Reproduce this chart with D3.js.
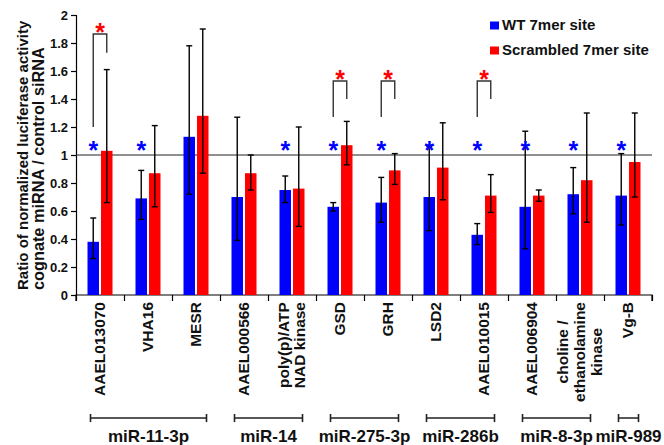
<!DOCTYPE html>
<html><head><meta charset="utf-8">
<script src="https://cdn.jsdelivr.net/npm/d3@7"></script>
<style>
html,body{margin:0;padding:0;background:#fff;}
svg{display:block;font-family:"Liberation Sans",Arial,sans-serif;font-weight:bold;}
</style></head>
<body>
<svg id="chart" width="664" height="445"></svg>
<script>
// ---------- data ----------
const categories = ["AAEL013070","VHA16","MESR","AAEL000566","poly(p)/ATP NAD kinase","GSD","GRH","LSD2","AAEL010015","AAEL006904","choline / ethanolamine kinase","Vg-B"];
const categoryLines = [["AAEL013070"],["VHA16"],["MESR"],["AAEL000566"],["poly(p)/ATP","NAD kinase"],["GSD"],["GRH"],["LSD2"],["AAEL010015"],["AAEL006904"],["choline /","ethanolamine","kinase"],["Vg-B"]];
const seriesNames = ["WT 7mer site","Scrambled 7mer site"];
const wtValues   = [0.38, 0.69, 1.13, 0.70, 0.75, 0.63, 0.66, 0.70, 0.43, 0.63, 0.72, 0.71];
const wtLow      = [0.26, 0.54, 0.72, 0.39, 0.66, 0.60, 0.52, 0.46, 0.36, 0.33, 0.58, 0.50];
const wtHigh     = [0.55, 0.89, 1.78, 1.27, 0.85, 0.66, 0.84, 1.06, 0.51, 1.17, 0.91, 1.01];
const scrValues  = [1.03, 0.87, 1.28, 0.87, 0.76, 1.07, 0.89, 0.91, 0.71, 0.71, 0.82, 0.95];
const scrLow     = [0.66, 0.63, 0.87, 0.75, 0.49, 0.93, 0.79, 0.68, 0.59, 0.67, 0.52, 0.70];
const scrHigh    = [1.61, 1.21, 1.90, 1.00, 1.20, 1.24, 1.01, 1.23, 0.86, 0.75, 1.30, 1.30];
const yTicks = [0, 0.2, 0.4, 0.6, 0.8, 1, 1.2, 1.4, 1.6, 1.8, 2];
const yTickLabels = ["0","0.2","0.4","0.6","0.8","1","1.2","1.4","1.6","1.8","2"];
const blueStarCats = ["AAEL013070","VHA16","poly(p)/ATP NAD kinase","GSD","GRH","LSD2","AAEL010015","AAEL006904","choline / ethanolamine kinase","Vg-B"];
const blueStarLevel = 1.07;
const sigCats = ["AAEL013070","GSD","GRH","AAEL010015"];
const sigTop = [1.864, 1.529, 1.529, 1.529];
const sigLeftBottom = [1.20, 1.271, 1.271, 1.271];
const sigRightBottom = [1.73, 1.40, 1.40, 1.40];
const sigStarLevel = [1.916, 1.579, 1.579, 1.579];
const groups = ["miR-11-3p","miR-14","miR-275-3p","miR-286b","miR-8-3p","miR-989"];
const groupFirst = ["AAEL013070","AAEL000566","GSD","LSD2","AAEL006904","Vg-B"];
const groupLast  = ["MESR","poly(p)/ATP NAD kinase","GRH","AAEL010015","choline / ethanolamine kinase","Vg-B"];
const yTitleLines = ["Ratio of normalized luciferase activity","cognate miRNA / control siRNA"];

const BLUE = "#0000ff", RED = "#ff0000";

// ---------- scales ----------
const svg = d3.select("#chart");
const x = d3.scaleBand().domain(categories).range([76, 652]);
const xi = d3.scaleBand().domain(["wt","scr"]).range([11.5, 36.5]).paddingInner(0.15);
const y = d3.scaleLinear().domain([0, 2]).range([295, 15]);
const cx = c => x(c) + x.bandwidth() / 2;

// y axis
const yAxis = d3.axisLeft(y).tickValues(yTicks).tickSize(5).tickPadding(3)
  .tickFormat((d, i) => yTickLabels[i]);
const gy = svg.append("g").attr("transform", `translate(${x.range()[0]},0)`).call(yAxis);
gy.select(".domain").attr("stroke", "#000").attr("stroke-width", 1.2);
gy.selectAll(".tick line").attr("stroke", "#000").attr("stroke-width", 1.2);
gy.selectAll(".tick text").attr("font-size", 13).attr("font-weight", "bold")
  .attr("font-family", "Liberation Sans, Arial, sans-serif").attr("fill", "#111");

// x axis (category boundaries)
const xb = d3.scaleLinear().domain([0, categories.length]).range(x.range());
const xAxis = d3.axisBottom(xb).tickValues(d3.range(categories.length + 1)).tickSize(6).tickFormat("");
const gx = svg.append("g").attr("transform", `translate(0,${y(0)})`).call(xAxis);
gx.select(".domain").attr("stroke", "#000").attr("stroke-width", 1.2).attr("d", `M${x.range()[0]},6V0H${x.range()[1]}V6`);
gx.selectAll(".tick line").attr("stroke", "#000").attr("stroke-width", 1.2);

// reference line at 1
svg.append("line").attr("x1", x.range()[0]).attr("x2", x.range()[1])
  .attr("y1", y(1)).attr("y2", y(1)).attr("stroke", "#222").attr("stroke-width", 1.2);

// bars
const series = [
  {key: "wt", vals: wtValues, lo: wtLow, hi: wtHigh, color: BLUE},
  {key: "scr", vals: scrValues, lo: scrLow, hi: scrHigh, color: RED}
];
series.forEach(s => {
  const g = svg.append("g");
  g.selectAll("rect").data(categories).join("rect")
    .attr("x", c => x(c) + xi(s.key))
    .attr("width", xi.bandwidth())
    .attr("y", (c, i) => y(s.vals[i]))
    .attr("height", (c, i) => y(0) - y(s.vals[i]))
    .attr("fill", s.color);
});
// error bars
series.forEach(s => {
  const g = svg.append("g").attr("stroke", "#000").attr("stroke-width", 1.4);
  categories.forEach((c, i) => {
    const bx = x(c) + xi(s.key) + xi.bandwidth() / 2;
    g.append("line").attr("x1", bx).attr("x2", bx).attr("y1", y(s.lo[i])).attr("y2", y(s.hi[i]));
    g.append("line").attr("x1", bx - 3).attr("x2", bx + 3).attr("y1", y(s.lo[i])).attr("y2", y(s.lo[i]));
    g.append("line").attr("x1", bx - 3).attr("x2", bx + 3).attr("y1", y(s.hi[i])).attr("y2", y(s.hi[i]));
  });
});

// blue stars
const STAR = 25;
svg.append("g").selectAll("text").data(blueStarCats).join("text")
  .attr("x", c => x(c) + xi("wt") + xi.bandwidth() / 2)
  .attr("y", y(blueStarLevel) + STAR * 0.55)
  .attr("text-anchor", "middle").attr("font-size", STAR).attr("font-weight", "bold")
  .attr("fill", BLUE).text("*");

// significance brackets
sigCats.forEach((c, i) => {
  const xl = x(c) + xi("wt") + xi.bandwidth() / 2;
  const xr = x(c) + xi("scr") + xi.bandwidth() / 2;
  svg.append("path")
    .attr("d", `M${xl},${y(sigLeftBottom[i])}V${y(sigTop[i])}H${xr}V${y(sigRightBottom[i])}`)
    .attr("fill", "none").attr("stroke", "#333").attr("stroke-width", 1.4);
  svg.append("text").attr("x", (xl + xr) / 2).attr("y", y(sigStarLevel[i]) + STAR * 0.55)
    .attr("text-anchor", "middle").attr("font-size", STAR).attr("font-weight", "bold")
    .attr("fill", RED).text("*");
});

// category labels
const LFS = 15.5, LH = 16.8;
categories.forEach((c, i) => {
  const lines = categoryLines[i];
  const g = svg.append("g").attr("transform", `translate(${cx(c) - 0.5},302) rotate(-90)`);
  const texts = lines.map(l => g.append("text").attr("font-size", LFS).attr("font-weight", "bold")
    .attr("fill", "#111").attr("text-anchor", "middle").text(l));
  const maxW = d3.max(texts, t => t.node().getComputedTextLength());
  const n = lines.length;
  texts.forEach((t, k) => {
    t.attr("x", -maxW / 2).attr("y", (k - (n - 1) / 2) * LH + LFS * 0.36);
  });
});

// group brackets
groups.forEach((gname, i) => {
  const x1 = cx(groupFirst[i]) - 9.5, x2 = cx(groupLast[i]) + 10.5;
  const by = 418;
  svg.append("path").attr("d", `M${x1},${by - 4}V${by + 4}M${x1},${by}H${x2}M${x2},${by - 4}V${by + 4}`)
    .attr("stroke", "#222").attr("stroke-width", 1.6).attr("fill", "none");
  svg.append("text").attr("x", (x1 + x2) / 2).attr("y", 442).attr("text-anchor", "middle")
    .attr("font-size", 17).attr("font-weight", "bold").attr("fill", "#111").text(gname);
});

// y axis title
const titleSizes = [15, 16.3];
yTitleLines.forEach((t, k) => {
  svg.append("text").attr("transform", `translate(${27.5 + k * 16.5},290) rotate(-90)`)
    .attr("text-anchor", "start").attr("font-size", titleSizes[k]).attr("font-weight", "bold")
    .attr("fill", "#111").text(t);
});

// legend
const legend = svg.append("g");
seriesNames.forEach((name, k) => {
  legend.append("rect").attr("x", 490).attr("y", 21.5 + k * 25).attr("width", 9).attr("height", 8)
    .attr("fill", k === 0 ? BLUE : RED);
  legend.append("text").attr("x", 502).attr("y", 29.5 + k * 25).attr("font-size", 15)
    .attr("font-weight", "bold").attr("fill", "#111").text(name);
});
</script>
</body></html>
